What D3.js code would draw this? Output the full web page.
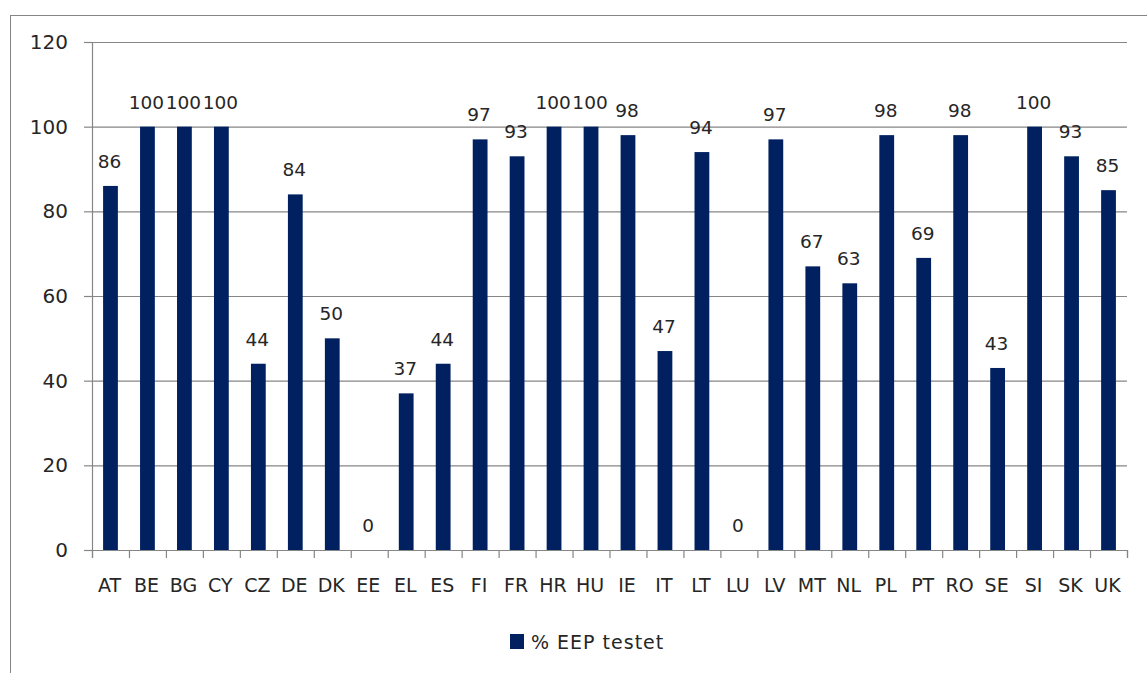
<!DOCTYPE html>
<html>
<head>
<meta charset="utf-8">
<title>% EEP testet</title>
<script src="https://cdn.jsdelivr.net/npm/d3@7"></script>
<style>
  html, body { margin: 0; padding: 0; background: #fff; overflow: hidden; }
  #chart-container text { font-family: "DejaVu Sans", Verdana, sans-serif; fill: #262626; }
</style>
</head>
<body>
<div id="chart-container"></div>
<script>
(function() {
  'use strict';

const countries = ['AT', 'BE', 'BG', 'CY', 'CZ', 'DE', 'DK', 'EE', 'EL', 'ES', 'FI', 'FR', 'HR', 'HU',
                   'IE', 'IT', 'LT', 'LU', 'LV', 'MT', 'NL', 'PL', 'PT', 'RO', 'SE', 'SI', 'SK', 'UK'];
const eepTested = [86, 100, 100, 100, 44, 84, 50, 0, 37, 44, 97, 93, 100, 100,
                   98, 47, 94, 0, 97, 67, 63, 98, 69, 98, 43, 100, 93, 85];
const yTicks = [0, 20, 40, 60, 80, 100, 120];
const seriesName = '% EEP testet';

const chart = '#chart-container';

const W = 1147;
const H = 673;
const LEFT = 92;
const RIGHT = 1127;
const TOP = 42;
const BOTTOM = 550;

const NAVY = '#002060';
const GREY = '#868686';

const svg = d3.select(chart)
              .append('svg')
                .attr('width', W)
                .attr('height', H);

// outer chart frame (right/bottom edges sit outside the picture)
svg.append('rect')
  .attr('x', 10.5)
  .attr('y', 15.5)
  .attr('width', 1150)
  .attr('height', 700)
  .attr('fill', 'none')
  .attr('stroke', GREY)
  .attr('stroke-width', 1);

const xScale = d3.scaleBand()
                .domain(countries)
                .range([LEFT, RIGHT])
                .paddingInner(0.6)
                .paddingOuter(0.3);

// category boundaries for the tick marks
const xEdges = d3.scaleLinear()
                .domain([0, countries.length])
                .range([LEFT, RIGHT]);

const yScale = d3.scaleLinear()
                .domain([0, 120])
                .range([BOTTOM, TOP]);

// gridlines
const grid = svg.append('g')
  .attr('transform', `translate(${LEFT}, 0)`)
  .call(d3.axisLeft(yScale).tickValues(yTicks).tickSize(-(RIGHT - LEFT)).tickFormat(''));
grid.select('.domain').remove();
grid.selectAll('line').attr('stroke', GREY).attr('stroke-width', 1.2);

// y axis
const yAxis = svg.append('g')
  .attr('id', 'y-axis')
  .attr('transform', `translate(${LEFT}, 0)`)
  .call(d3.axisLeft(yScale).tickValues(yTicks).tickSizeInner(8).tickSizeOuter(0).tickPadding(16));
yAxis.select('.domain').attr('stroke', GREY).attr('stroke-width', 1.2);
yAxis.selectAll('line').attr('stroke', GREY).attr('stroke-width', 1.2);
yAxis.selectAll('text').style('font-size', '20px');

// bars
svg.selectAll('rect.bar')
  .data(eepTested)
  .enter()
  .append('rect')
    .attr('class', 'bar')
    .attr('x', (d, i) => xScale(countries[i]))
    .attr('y', (d) => yScale(d))
    .attr('width', xScale.bandwidth())
    .attr('height', (d) => BOTTOM - yScale(d))
    .attr('fill', NAVY);

// data labels
svg.selectAll('text.label')
  .data(eepTested)
  .enter()
  .append('text')
    .attr('class', 'label')
    .attr('x', (d, i) => xScale(countries[i]) + xScale.bandwidth() / 2 - 1)
    .attr('y', (d) => yScale(d) - 18)
    .attr('text-anchor', 'middle')
    .style('font-size', '18.5px')
    .text((d) => d);

// x axis: tick marks at category edges
const xTicks = svg.append('g')
  .attr('transform', `translate(0, ${BOTTOM})`)
  .call(d3.axisBottom(xEdges).tickValues(d3.range(countries.length + 1)).tickSize(8).tickFormat(''));
xTicks.select('.domain').attr('stroke', GREY).attr('stroke-width', 1.2);
xTicks.selectAll('line').attr('stroke', GREY).attr('stroke-width', 1.2);

// x axis labels
const xAxis = svg.append('g')
  .attr('id', 'x-axis')
  .attr('transform', `translate(-1, ${BOTTOM})`)
  .call(d3.axisBottom(xScale).tickSize(0).tickPadding(29));
xAxis.select('.domain').remove();
xAxis.selectAll('text').style('font-size', '19px');

// legend
const legend = svg.append('g')
  .attr('transform', 'translate(510, 634)');
legend.append('rect')
  .attr('width', 14)
  .attr('height', 15)
  .attr('fill', NAVY);
legend.append('text')
  .attr('x', 21)
  .attr('y', 15)
  .style('font-size', '19px')
  .style('letter-spacing', '1px')
  .text(seriesName);

})();
</script>
</body>
</html>
